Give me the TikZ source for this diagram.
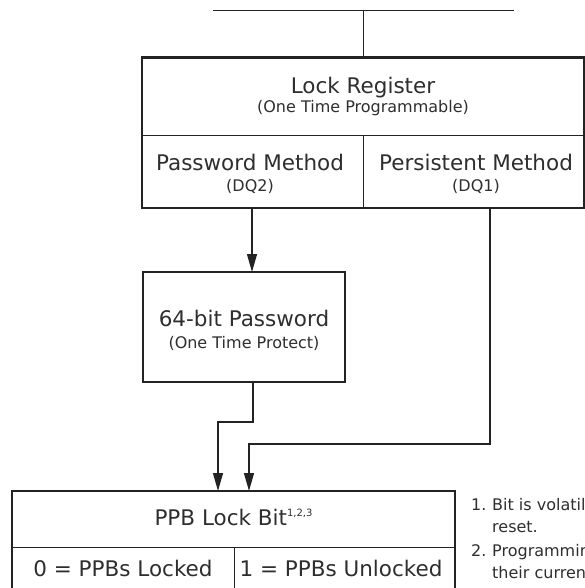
\documentclass[tikz,border=0pt]{standalone}
\usepackage{fontspec}
\setmainfont{DejaVu Sans}
\usetikzlibrary{arrows.meta}
\definecolor{ink}{HTML}{232323}
\definecolor{txt}{HTML}{2E2E2E}
\begin{document}
\begin{tikzpicture}[x=1pt,y=-1pt,
  thickbox/.style={draw=ink, line width=2.6pt, inner sep=0pt, outer sep=0pt},
  thinline/.style={draw=ink, line width=1pt},
  conn/.style={draw=ink, line width=1.3pt},
  arr/.style={conn, -{Triangle[length=18pt,width=10pt]}},
  big/.style={font=\fontsize{21.5}{24}\selectfont, text=txt, anchor=base, inner sep=0pt},
  small/.style={font=\fontsize{16}{18}\selectfont, text=txt, anchor=base, inner sep=0pt},
  note/.style={font=\fontsize{16}{18}\selectfont, text=txt, anchor=base west, inner sep=0pt},
]
\useasboundingbox (0,0) rectangle (585,588);
\clip (0,0) rectangle (585,588);

% top bus line
\coordinate (tl) at (213,10.7);
\coordinate (tr) at (514,10.7);
\coordinate (tm) at (363,10.7);
\draw[conn] (tl) -- (tr);

% Lock register box
\node[thickbox, minimum width=442pt, minimum height=150.5pt] (lr) at (363,132.75) {};
\draw[thinline] (tm) -- (lr.north);
\coordinate (lrl) at (142,136);
\coordinate (lrr) at (584,136);
\coordinate (lrm) at (363,136);
\draw[thinline] (lrl) -- (lrr);
\draw[thinline] (lrm) -- (lr.south);
\node[big] (t1) at (363,94) {Lock Register};
\node[small] (t2) at (363,113) {(One Time Programmable)};
\node[big] (t3) at (250,170) {Password Method};
\node[small] (t4) at (250,191) {(DQ2)};
\node[big] (t5) at (476,170) {Persistent Method};
\node[small] (t6) at (476,191) {(DQ1)};

% 64-bit password box
\node[thickbox, minimum width=202pt, minimum height=110pt] (pw) at (244,327) {};
\node[big] (t7) at (244,326) {64-bit Password};
\node[small] (t8) at (244,348) {(One Time Protect)};

% PPB lock bit box
\node[thickbox, minimum width=443pt, minimum height=107pt] (ppb) at (233.5,544.5) {};
\coordinate (pl) at (12,547);
\coordinate (pr) at (455,547);
\coordinate (pm) at (234,547);
\draw[thinline] (pl) -- (pr);
\draw[thinline] (pm) -- (pm |- ppb.south);
\node[big] (t9) at (233.5,525) {PPB Lock Bit\raisebox{9pt}{\fontsize{10}{10}\selectfont 1,2,3}};
\node[big] (t10) at (123,576) {0 = PPBs Locked};
\node[big] (t11) at (341,576) {1 = PPBs Unlocked};

% connectors
\coordinate (c1) at (252,208);
\draw[arr] (c1) -- (c1 |- pw.north);
\coordinate (c2) at (253,382);
\coordinate (k1) at (218,422);
\draw[arr] (c2) |- (k1) -- (k1 |- ppb.north);
\coordinate (c3) at (490,208);
\coordinate (k2) at (249,444);
\draw[arr] (c3) |- (k2) -- (k2 |- ppb.north);

% footnotes
\node[note] (n1) at (471,510) {1.};
\node[note] (n1a) at (492,510) {Bit is volatil};
\node[note] (n1b) at (492,532) {reset.};
\node[note] (n2) at (471,556) {2.};
\node[note] (n2a) at (492,556) {Programmin};
\node[note] (n2b) at (492,578) {their curren};
\end{tikzpicture}
\end{document}
